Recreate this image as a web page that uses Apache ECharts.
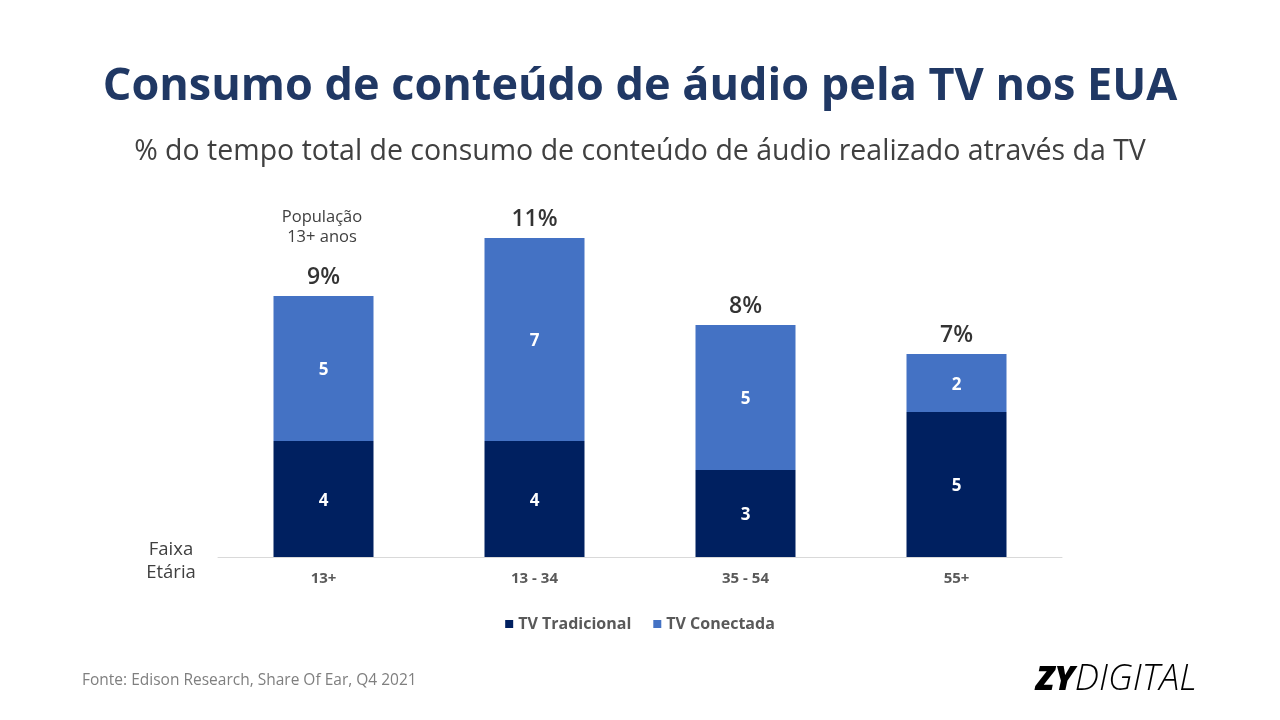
<!DOCTYPE html>
<html><head><meta charset="utf-8">
<script src="https://cdn.jsdelivr.net/npm/echarts@6/dist/echarts.min.js"></script>
<style>html,body{margin:0;padding:0;background:#fff}#c{width:1280px;height:720px}</style>
</head><body><div id="c"></div>
<script>
const categories = ['13+', '13 - 34', '35 - 54', '55+'];
const tvTradicional = [4, 4, 3, 5];
const tvConectada = [5, 7, 5, 2];
const totals = [9, 11, 8, 7];
const FONT = '"Open Sans", "Noto Sans", sans-serif';

const chart = echarts.init(document.getElementById('c'));
chart.setOption({
  backgroundColor: '#ffffff',
  animation: false,
  textStyle: { fontFamily: FONT },
  title: [
    { text: 'Consumo de conteúdo de áudio pela TV nos EUA', left: 'center', top: 60,
      textStyle: { fontSize: 45, fontWeight: 'bold', color: '#203864', fontFamily: FONT } },
    { text: '% do tempo total de consumo de conteúdo de áudio realizado através da TV', left: 'center', top: 132,
      textStyle: { fontSize: 28.5, fontWeight: 'normal', color: '#404040', fontFamily: FONT } }
  ],
  legend: {
    data: ['TV Tradicional', 'TV Conectada'],
    bottom: 83, left: 'center', itemWidth: 8, itemHeight: 8, itemGap: 22,
    icon: 'rect',
    textStyle: { fontSize: 16, fontWeight: 'bold', color: '#595959', fontFamily: FONT, padding: [0, 0, 0, 0] }
  },
  grid: { left: 218, right: 218, top: 209, bottom: 163 },
  xAxis: {
    type: 'category', data: categories,
    axisLine: { lineStyle: { color: '#d9d9d9', width: 1 } },
    axisTick: { show: false },
    axisLabel: { margin: 14, fontSize: 15, fontWeight: 'bold', color: '#595959', fontFamily: FONT }
  },
  yAxis: { type: 'value', min: 0, max: 12, show: false, splitLine: { show: false } },
  series: [
    { name: 'TV Tradicional', type: 'bar', stack: 's', barWidth: 100, data: tvTradicional,
      itemStyle: { color: '#002060' },
      label: { show: true, position: 'inside', offset: [0, 2], color: '#fff', fontSize: 17, fontWeight: 'bold', fontFamily: FONT } },
    { name: 'TV Conectada', type: 'bar', stack: 's', barWidth: 100, data: tvConectada,
      itemStyle: { color: '#4472C4' },
      label: { show: true, position: 'inside', offset: [0, 2], color: '#fff', fontSize: 17, fontWeight: 'bold', fontFamily: FONT } },
    { name: 'Total', type: 'scatter', data: totals, symbolSize: 0, silent: true,
      label: { show: true, position: 'top', distance: 7, formatter: '{c}%', color: '#000', fontSize: 23, fontWeight: 600, fontFamily: FONT } }
  ],
  graphic: [
    { type: 'text', x: 322, y: 207, style: { text: 'População\n13+ anos', align: 'center', fill: '#404040', fontSize: 16.5, lineHeight: 20, fontFamily: FONT } },
    { type: 'text', x: 171, y: 538, style: { text: 'Faixa\nEtária', align: 'center', fill: '#404040', fontSize: 18.5, lineHeight: 23, fontFamily: FONT } },
    { type: 'text', x: 82, y: 673, style: { text: 'Fonte: Edison Research, Share Of Ear, Q4 2021', fill: '#7f7f7f', fontSize: 15.5, fontFamily: FONT } },
    { type: 'text', x: 1036, y: 662, style: { text: '{a|ZY}{b|DIGITAL}', rich: {
        a: { fontSize: 34, fontWeight: 800, fontStyle: 'italic', fill: '#000', fontFamily: FONT },
        b: { fontSize: 36, fontWeight: 300, fontStyle: 'italic', fill: '#000', fontFamily: FONT } } } }
  ]
});
</script></body></html>
